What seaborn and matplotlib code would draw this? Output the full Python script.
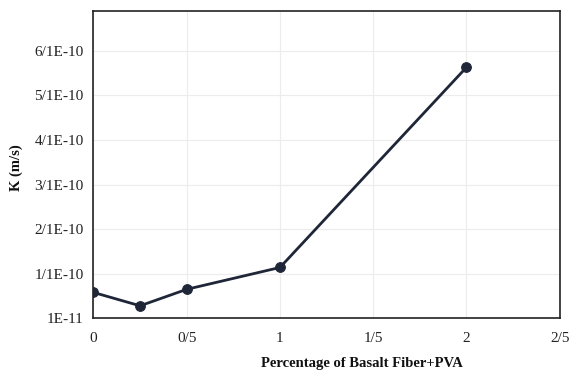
import matplotlib
matplotlib.use("Agg")
import matplotlib.pyplot as plt
import seaborn as sns
import pandas as pd

# Data
percent = [0, 0.25, 0.5, 1, 2]
k_values = [6.8e-11, 3.8e-11, 7.5e-11, 1.24e-10, 5.73e-10]
x_ticks = [0, 0.5, 1, 1.5, 2, 2.5]
x_tick_labels = ["0", "0/5", "1", "1/5", "2", "2/5"]
y_ticks = [1e-11, 1.1e-10, 2.1e-10, 3.1e-10, 4.1e-10, 5.1e-10, 6.1e-10]
y_tick_labels = ["1E-11", "1/1E-10", "2/1E-10", "3/1E-10", "4/1E-10", "5/1E-10", "6/1E-10"]

sns.set_style("whitegrid")
plt.rcParams['font.family'] = ['Liberation Serif', 'DejaVu Serif']

df = pd.DataFrame({"x": percent, "K": k_values})

fig = plt.figure(figsize=(5.71, 3.72), dpi=100)
ax = fig.add_axes([0.1637, 0.1444, 0.8165, 0.8268])

line_color = "#1e2638"
sns.lineplot(data=df, x="x", y="K", ax=ax, color=line_color, linewidth=2,
             marker="o", markersize=7, markeredgecolor=line_color,
             markerfacecolor=line_color)

ax.set_xlim(0, 2.5)
ax.set_ylim(1e-11, 7e-10)
ax.set_xticks(x_ticks)
ax.set_xticklabels(x_tick_labels)
ax.set_yticks(y_ticks)
ax.set_yticklabels(y_tick_labels)

ax.grid(True, color="#ececec", linewidth=0.8)
for s in ax.spines.values():
    s.set_visible(True)
    s.set_color("#222222")
    s.set_linewidth(1.2)

ax.tick_params(axis="both", which="major", length=4, width=1, color="#222222",
               labelsize=11, labelcolor="#222222", pad=3, direction="out")
ax.tick_params(axis="x", pad=6)

ax.set_xlabel("Percentage of Basalt Fiber+PVA", fontsize=10.5, fontweight="bold", color="#111111")
ax.set_ylabel("K (m/s)", fontsize=10.5, fontweight="bold", color="#111111")
ax.xaxis.set_label_coords(0.575, -0.125)
ax.yaxis.set_label_coords(-0.152, 0.49)

fig.savefig("out.png", dpi=100)
